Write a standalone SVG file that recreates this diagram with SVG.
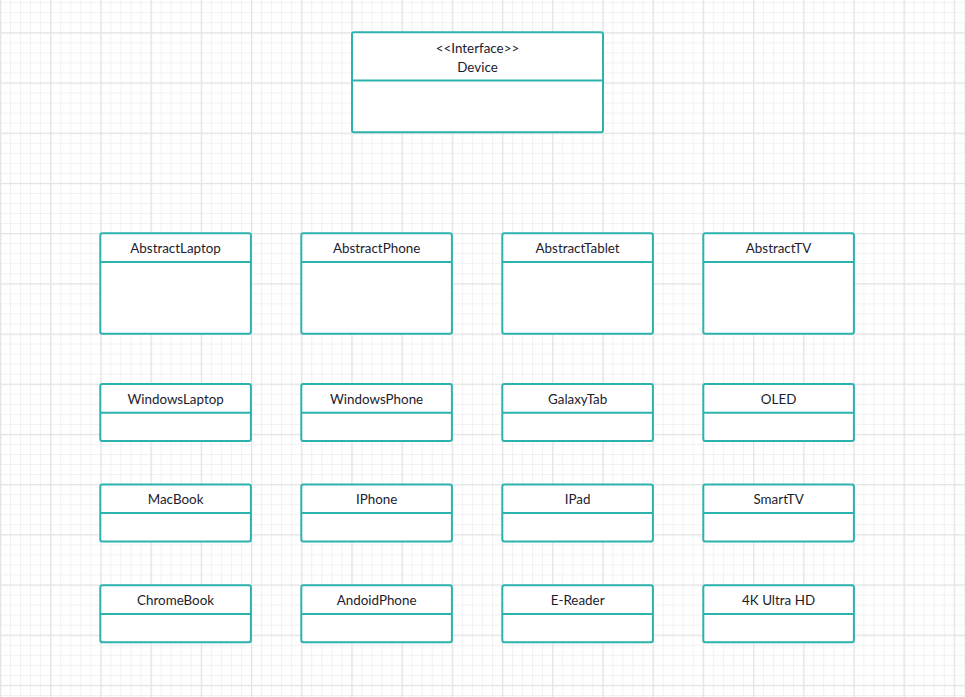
<svg xmlns="http://www.w3.org/2000/svg" width="965" height="697" viewBox="0 0 965 697">
<style>
.box{fill:#ffffff;stroke:#2cb3ae;stroke-width:2}
.div{stroke:#2cb3ae;stroke-width:2}
.t{font-family:Lato,"Liberation Sans",sans-serif;font-size:13.4px;fill:#1c1c2e;text-anchor:middle;dominant-baseline:central}
</style>
<defs>
<pattern id="minor" x="0" y="2.22" width="10.04" height="10.04" patternUnits="userSpaceOnUse">
<path d="M0.5 0V10.04M0 0.5H10.04" stroke="#f1f1f1" stroke-width="1" fill="none"/>
</pattern>
<pattern id="major" x="0" y="-17.9" width="50.2" height="50.2" patternUnits="userSpaceOnUse">
<path d="M0.5 0V50.2M0 0.5H50.2" stroke="#e4e4e4" stroke-width="1.5" fill="none"/>
</pattern>
</defs>
<rect width="965" height="697" fill="#ffffff"/>
<rect width="965" height="697" fill="url(#minor)"/>
<rect width="965" height="697" fill="url(#major)"/>
<g id="connectors"/>
<g id="Device">
<rect class="box" x="352" y="32.3" width="251" height="100" rx="2"/>
<line class="div" x1="352" y1="80.5" x2="603" y2="80.5"/>
<text class="t" x="477.5" y="47.5">&lt;&lt;Interface&gt;&gt;</text>
<text class="t" x="477.5" y="66.5">Device</text>
</g>
<g id="AbstractLaptop">
<rect class="box" x="100.3" y="233.3" width="150.6" height="100.4" rx="2"/>
<line class="div" x1="100.3" y1="262" x2="250.9" y2="262"/>
<text class="t" x="175.6" y="248.3">AbstractLaptop</text>
</g>
<g id="AbstractPhone">
<rect class="box" x="301.3" y="233.3" width="150.6" height="100.4" rx="2"/>
<line class="div" x1="301.3" y1="262" x2="451.9" y2="262"/>
<text class="t" x="376.6" y="248.3">AbstractPhone</text>
</g>
<g id="AbstractTablet">
<rect class="box" x="502.3" y="233.3" width="150.6" height="100.4" rx="2"/>
<line class="div" x1="502.3" y1="262" x2="652.9" y2="262"/>
<text class="t" x="577.6" y="248.3">AbstractTablet</text>
</g>
<g id="AbstractTV">
<rect class="box" x="703.3" y="233.3" width="150.6" height="100.4" rx="2"/>
<line class="div" x1="703.3" y1="262" x2="853.9" y2="262"/>
<text class="t" x="778.6" y="248.3">AbstractTV</text>
</g>
<g id="WindowsLaptop">
<rect class="box" x="100.3" y="384" width="150.6" height="57" rx="2"/>
<line class="div" x1="100.3" y1="412.7" x2="250.9" y2="412.7"/>
<text class="t" x="175.6" y="398.8">WindowsLaptop</text>
</g>
<g id="WindowsPhone">
<rect class="box" x="301.3" y="384" width="150.6" height="57" rx="2"/>
<line class="div" x1="301.3" y1="412.7" x2="451.9" y2="412.7"/>
<text class="t" x="376.6" y="398.8">WindowsPhone</text>
</g>
<g id="GalaxyTab">
<rect class="box" x="502.3" y="384" width="150.6" height="57" rx="2"/>
<line class="div" x1="502.3" y1="412.7" x2="652.9" y2="412.7"/>
<text class="t" x="577.6" y="398.8">GalaxyTab</text>
</g>
<g id="OLED">
<rect class="box" x="703.3" y="384" width="150.6" height="57" rx="2"/>
<line class="div" x1="703.3" y1="412.7" x2="853.9" y2="412.7"/>
<text class="t" x="778.6" y="398.8">OLED</text>
</g>
<g id="MacBook">
<rect class="box" x="100.3" y="484.4" width="150.6" height="57" rx="2"/>
<line class="div" x1="100.3" y1="513" x2="250.9" y2="513"/>
<text class="t" x="175.6" y="499.3">MacBook</text>
</g>
<g id="IPhone">
<rect class="box" x="301.3" y="484.4" width="150.6" height="57" rx="2"/>
<line class="div" x1="301.3" y1="513" x2="451.9" y2="513"/>
<text class="t" x="376.6" y="499.3">IPhone</text>
</g>
<g id="IPad">
<rect class="box" x="502.3" y="484.4" width="150.6" height="57" rx="2"/>
<line class="div" x1="502.3" y1="513" x2="652.9" y2="513"/>
<text class="t" x="577.6" y="499.3">IPad</text>
</g>
<g id="SmartTV">
<rect class="box" x="703.3" y="484.4" width="150.6" height="57" rx="2"/>
<line class="div" x1="703.3" y1="513" x2="853.9" y2="513"/>
<text class="t" x="778.6" y="499.3">SmartTV</text>
</g>
<g id="ChromeBook">
<rect class="box" x="100.3" y="585.3" width="150.6" height="57" rx="2"/>
<line class="div" x1="100.3" y1="614" x2="250.9" y2="614"/>
<text class="t" x="175.6" y="599.8">ChromeBook</text>
</g>
<g id="AndoidPhone">
<rect class="box" x="301.3" y="585.3" width="150.6" height="57" rx="2"/>
<line class="div" x1="301.3" y1="614" x2="451.9" y2="614"/>
<text class="t" x="376.6" y="599.8">AndoidPhone</text>
</g>
<g id="E-Reader">
<rect class="box" x="502.3" y="585.3" width="150.6" height="57" rx="2"/>
<line class="div" x1="502.3" y1="614" x2="652.9" y2="614"/>
<text class="t" x="577.6" y="599.8">E-Reader</text>
</g>
<g id="UltraHD4K">
<rect class="box" x="703.3" y="585.3" width="150.6" height="57" rx="2"/>
<line class="div" x1="703.3" y1="614" x2="853.9" y2="614"/>
<text class="t" x="778.6" y="599.8">4K Ultra HD</text>
</g>
</svg>
